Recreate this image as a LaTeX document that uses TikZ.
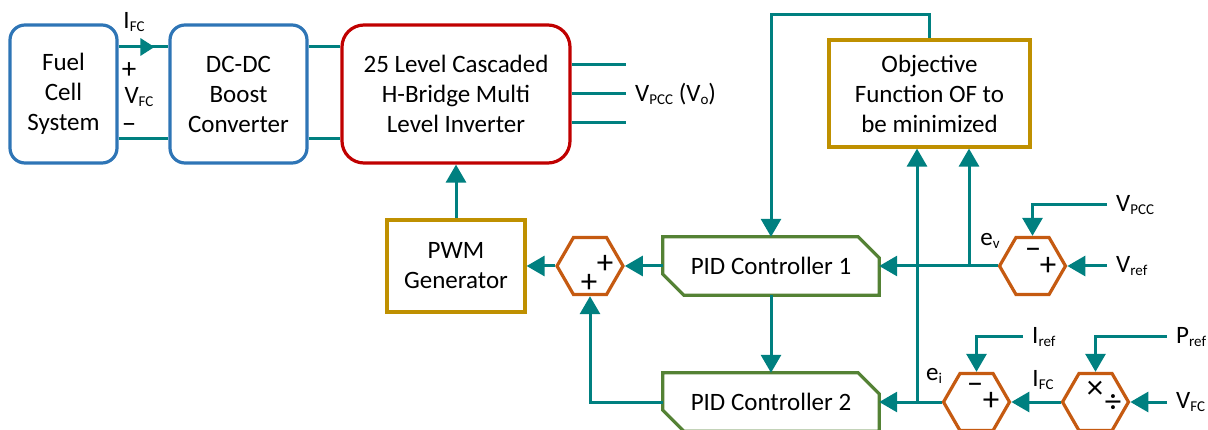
\documentclass[tikz,border=0pt]{standalone}
\usepackage{fontspec}
\setmainfont{Carlito}
\usetikzlibrary{arrows.meta,positioning,calc,shapes.geometric,decorations.markings}
\definecolor{wireteal}{RGB}{0,128,128}
\definecolor{boxblue}{RGB}{46,117,182}
\definecolor{invred}{RGB}{192,0,0}
\definecolor{ofgold}{RGB}{191,144,0}
\definecolor{pidgreen}{RGB}{84,130,53}
\definecolor{hexorange}{RGB}{197,90,17}
\newcommand{\lowsub}[1]{\raisebox{-3pt}{\fontsize{15}{15}\selectfont #1}}

\begin{document}
\begin{tikzpicture}[x=1pt,y=-1pt,
    every node/.style={font=\fontsize{25}{30}\selectfont},
    rbox/.style={draw=#1, line width=3.2pt, rounded corners=15pt, align=center, inner sep=0pt},
    sbox/.style={draw=ofgold, line width=3.2pt, align=center, inner sep=0pt},
    pidbox/.style={minimum width=216pt, minimum height=58pt, inner sep=0pt},
    hexa/.style={draw=hexorange, line width=3.2pt, regular polygon, regular polygon sides=6, minimum size=66pt, inner sep=0pt},
    wire/.style={draw=wireteal, line width=3pt},
    arr/.style={wire, -{Triangle[length=18pt,width=20pt]}},
    lbl/.style={anchor=west, inner xsep=9pt, inner ysep=0pt},
    sgn/.style={inner sep=0pt, font=\fontsize{33}{33}\selectfont},
    vsgn/.style={inner sep=0pt, font=\fontsize{29}{29}\selectfont}]
    \useasboundingbox (0,0) rectangle (1208,430);
    \clip (0,0) rectangle (1208,430);
    % Power stage
    \node[rbox=boxblue, minimum width=107pt, minimum height=138pt] (fc) at (63.5,94) {Fuel\\Cell\\System};
    \node[rbox=boxblue, minimum width=137pt, minimum height=138pt] (dcdc) at (238.5,94) {DC-DC\\Boost\\Converter};
    \node[rbox=invred, rounded corners=22pt, minimum width=228pt, minimum height=138pt] (inv) at (456,94) {25 Level Cascaded\\H-Bridge Multi\\Level Inverter};
    \draw[wire, postaction={decorate}, decoration={markings, mark=at position 0.72 with {\arrow{Triangle[length=14pt,width=17pt]}}}]
      ([yshift=47pt]fc.east) -- ([yshift=47pt]dcdc.west);
    \draw[wire] ([yshift=-45pt]fc.east) -- ([yshift=-45pt]dcdc.west);
    \draw[wire] ([yshift=47pt]dcdc.east) -- ([yshift=47pt]inv.west);
    \draw[wire] ([yshift=-45pt]dcdc.east) -- ([yshift=-45pt]inv.west);
    \node (ifc) at (134,22) {I\lowsub{FC}};
    \node[vsgn] (vp) at (129,71) {+};
    \node (vfc) at (139,97) {V\lowsub{FC}};
    \node[vsgn] (vm) at (129,128) {--};
    % Inverter output
    \node[lbl] (vo) at (626,94) {V\lowsub{PCC} (V\lowsub{o})};
    \draw[wire] ([yshift=29pt]inv.east) -- ([yshift=29pt]vo.west);
    \draw[wire] (inv.east) -- (vo.west);
    \draw[wire] ([yshift=-29pt]inv.east) -- ([yshift=-29pt]vo.west);
    % Control blocks
    \node[sbox, minimum width=201pt, minimum height=107pt] (obj) at (929.5,93.5) {Objective\\Function OF to\\be minimized};
    \node[sbox, minimum width=138pt, minimum height=92pt] (pwm) at (456,266) {PWM\\Generator};
    \node[hexa] (hs) at (590,266) {};
    \node[pidbox] (pid1) at (771,266) {PID Controller 1};
    \node[pidbox] (pid2) at (771,402) {PID Controller 2};
    \node[hexa] (hv) at (1032.5,266) {};
    \node[hexa] (hi) at (976.5,402) {};
    \node[hexa] (hm) at (1095.5,402) {};
    \foreach \p in {pid1,pid2}
      \draw[pidgreen, line width=3.2pt] (\p.north west) -- ([xshift=-21pt]\p.north east) -- ([yshift=-21pt]\p.north east)
        -- (\p.south east) -- ([xshift=21pt]\p.south west) -- ([yshift=21pt]\p.south west) -- cycle;
    % Signs
    \node[sgn] at (605,264) {+};
    \node[sgn] at (589,283) {+};
    \node[sgn] at (1033,253) {--};
    \node[sgn] at (1048,266) {+};
    \node[sgn] at (975,388) {--};
    \node[sgn] at (991,401) {+};
    \node[sgn] at (1095,390) {\symbol{"00D7}};
    \node[sgn] at (1113,404) {\symbol{"00F7}};
    % Control connections
    \draw[arr] (pwm.north) -- (inv.south);
    \draw[arr] (hs.west) -- (pwm.east);
    \draw[arr] (pid1.west) -- (hs.east);
    \draw[arr] (pid2.west) -| (hs.south);
    \draw[arr] (pid1.south) -- (pid2.north);
    \draw[arr] (obj.north) -- ++(0,-24) -| (pid1.north);
    \draw[arr] (hv.west) -- (pid1.east);
    \draw[arr] (hi.west) -- (pid2.east);
    \coordinate (jv) at (969,266);
    \coordinate (ji) at (917,402);
    \draw[arr] (jv) -- (jv |- obj.south);
    \draw[arr] (ji) -- (ji |- obj.south);
    \draw[arr] (hm.west) -- (hi.east);
    \node (ev) at (990,241) {e\lowsub{v}};
    \node (ei) at (934,376) {e\lowsub{i}};
    \node (ifc2) at (1043,380) {I\lowsub{FC}};
    % References
    \node[lbl] (vpcc) at (1107,205) {V\lowsub{PCC}};
    \node[lbl] (vref) at (1107,266) {V\lowsub{ref}};
    \node[lbl] (iref) at (1023,337) {I\lowsub{ref}};
    \node[lbl] (pref) at (1167,337) {P\lowsub{ref}};
    \node[lbl] (vfcin) at (1167,402) {V\lowsub{FC}};
    \draw[arr] (vpcc.west) -| (hv.north);
    \draw[arr] (vref.west) -- (hv.east);
    \draw[arr] (iref.west) -| (hi.north);
    \draw[arr] (pref.west) -| (hm.north);
    \draw[arr] (vfcin.west) -- (hm.east);
\end{tikzpicture}
\end{document}
